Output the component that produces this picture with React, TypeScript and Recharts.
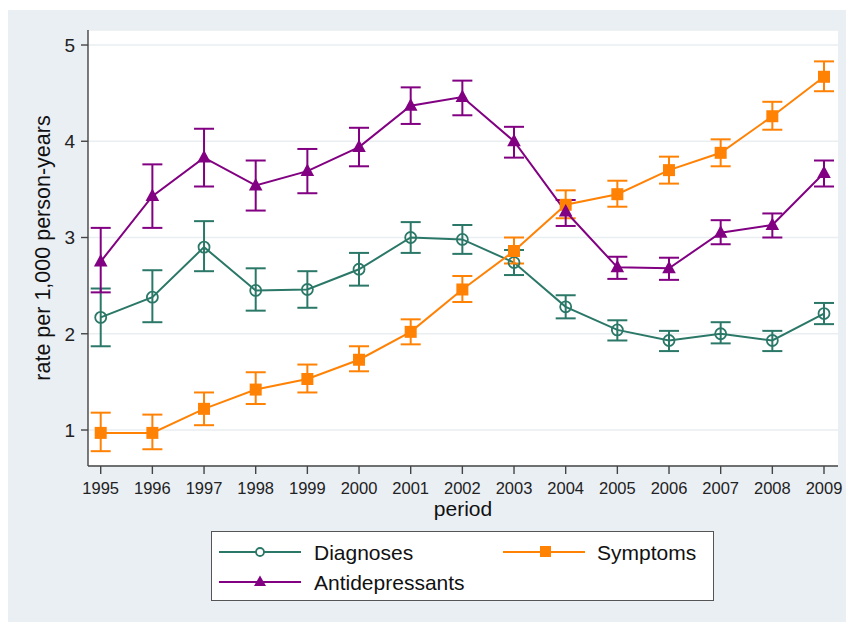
import React from 'react';
import { LineChart, Line, XAxis, YAxis, CartesianGrid, ErrorBar } from 'recharts';

const years = [1995, 1996, 1997, 1998, 1999, 2000, 2001, 2002, 2003, 2004, 2005, 2006, 2007, 2008, 2009];

const diagnoses = [2.17, 2.38, 2.90, 2.45, 2.46, 2.67, 3.00, 2.98, 2.74, 2.28, 2.04, 1.93, 2.00, 1.93, 2.21];
const diagLo = [1.87, 2.12, 2.65, 2.24, 2.27, 2.50, 2.84, 2.83, 2.61, 2.16, 1.93, 1.82, 1.90, 1.82, 2.10];
const diagHi = [2.47, 2.66, 3.17, 2.68, 2.65, 2.84, 3.16, 3.13, 2.87, 2.40, 2.14, 2.03, 2.12, 2.03, 2.32];

const symptoms = [0.97, 0.97, 1.22, 1.42, 1.53, 1.73, 2.02, 2.46, 2.86, 3.34, 3.45, 3.70, 3.88, 4.26, 4.67];
const sympLo = [0.78, 0.80, 1.05, 1.27, 1.39, 1.61, 1.89, 2.33, 2.73, 3.20, 3.32, 3.56, 3.74, 4.12, 4.52];
const sympHi = [1.18, 1.16, 1.39, 1.60, 1.68, 1.87, 2.15, 2.60, 3.00, 3.49, 3.59, 3.84, 4.02, 4.41, 4.83];

const antidep = [2.75, 3.43, 3.83, 3.54, 3.69, 3.94, 4.37, 4.46, 4.00, 3.27, 2.69, 2.68, 3.05, 3.13, 3.67];
const antiLo = [2.43, 3.10, 3.53, 3.28, 3.46, 3.74, 4.18, 4.27, 3.83, 3.12, 2.57, 2.56, 2.93, 3.00, 3.53];
const antiHi = [3.10, 3.76, 4.13, 3.80, 3.92, 4.14, 4.56, 4.63, 4.15, 3.39, 2.80, 2.79, 3.18, 3.25, 3.80];

const yTicks = [1, 2, 3, 4, 5];

const TEAL = '#2b7868';
const ORANGE = '#ff8205';
const PURPLE = '#820082';
const FONT = '"Liberation Sans", Arial, Helvetica, sans-serif';

const data = years.map((y, i) => ({
  year: y,
  diagnoses: diagnoses[i],
  diagErr: [diagnoses[i] - diagLo[i], diagHi[i] - diagnoses[i]],
  symptoms: symptoms[i],
  sympErr: [symptoms[i] - sympLo[i], sympHi[i] - symptoms[i]],
  antidep: antidep[i],
  antiErr: [antidep[i] - antiLo[i], antiHi[i] - antidep[i]],
}));

const CircleDot = (props: any) => {
  const { cx, cy, index } = props;
  if (cx == null || cy == null) return <g key={`c-${index}`} />;
  return <circle key={`c-${index}`} cx={cx} cy={cy} r={5.5} fill="none" stroke={TEAL} strokeWidth={1.8} />;
};

const SquareDot = (props: any) => {
  const { cx, cy, index } = props;
  if (cx == null || cy == null) return <g key={`s-${index}`} />;
  return <rect key={`s-${index}`} x={cx - 6} y={cy - 6} width={12} height={12} fill={ORANGE} />;
};

const TriDot = (props: any) => {
  const { cx, cy, index } = props;
  if (cx == null || cy == null) return <g key={`t-${index}`} />;
  const pts = `${cx},${cy - 7.5} ${cx - 6.8},${cy + 5} ${cx + 6.8},${cy + 5}`;
  return <polygon key={`t-${index}`} points={pts} fill={PURPLE} />;
};

const YLabel = (props: any) => {
  const vb = props.viewBox || {};
  const cx = 35;
  const cy = (vb.y ?? 0) + (vb.height ?? 0) / 2;
  return (
    <text x={cx} y={cy} transform={`rotate(-90 ${cx} ${cy})`} textAnchor="middle" dominantBaseline="central"
      fontSize={21.5} fill="#111" fontFamily={FONT}>
      rate per 1,000 person-years
    </text>
  );
};

const XLabel = (props: any) => {
  const vb = props.viewBox || {};
  const x = (vb.x ?? 0) + (vb.width ?? 0) / 2;
  const y = (vb.y ?? 0) + 50;
  return (
    <text x={x} y={y} textAnchor="middle" fontSize={21} fill="#111" fontFamily={FONT}>period</text>
  );
};

const LegendBox = () => (
  <div style={{ position: 'absolute', left: 203, top: 521, width: 503, height: 70, background: '#fff',
    border: '1.5px solid #555', boxSizing: 'border-box' }}>
    <svg width={500} height={67} style={{ position: 'absolute', left: 0, top: 0 }}>
      <g fontFamily={FONT} fontSize={21} fill="#111">
        <line x1={7} x2={89} y1={20} y2={20} stroke={TEAL} strokeWidth={2} />
        <circle cx={48} cy={20} r={4} fill="#fff" stroke={TEAL} strokeWidth={1.8} />
        <text x={102} y={20} dominantBaseline="central">Diagnoses</text>
        <line x1={291} x2={373} y1={20} y2={20} stroke={ORANGE} strokeWidth={2} />
        <rect x={328} y={14} width={11} height={11} fill={ORANGE} />
        <text x={385} y={20} dominantBaseline="central">Symptoms</text>
        <line x1={7} x2={89} y1={50} y2={50} stroke={PURPLE} strokeWidth={2} />
        <polygon points="48,43.5 42,54 54,54" fill={PURPLE} />
        <text x={102} y={50} dominantBaseline="central">Antidepressants</text>
      </g>
    </svg>
  </div>
);

export default function App() {
  return (
    <div style={{ width: 838, height: 612, background: '#eaeff4', position: 'absolute', left: 8, top: 10, overflow: 'hidden' }}>
      <LineChart width={838} height={612} data={data} margin={{ top: 20, right: 8, bottom: 116, left: 0 }}>
        <CartesianGrid vertical={false} fill="#ffffff" fillOpacity={1} stroke="#e9eef1" strokeWidth={1.5} />
        <XAxis
          dataKey="year"
          type="number"
          domain={[1994.754, 2009.271]}
          ticks={years}
          interval={0}
          allowDataOverflow
          height={40}
          tickSize={8}
          tickMargin={8}
          tick={{ fontSize: 16.5, fill: '#222', fontFamily: FONT }}
          axisLine={{ stroke: '#444', strokeWidth: 1.4 }}
          tickLine={{ stroke: '#444', strokeWidth: 1.4 }}
          label={<XLabel />}
        />
        <YAxis
          type="number"
          domain={[0.626, 5.156]}
          ticks={yTicks}
          allowDataOverflow
          width={80}
          tickSize={7}
          tickMargin={6}
          tick={{ fontSize: 19, fill: '#222', fontFamily: FONT }}
          axisLine={{ stroke: '#444', strokeWidth: 1.4 }}
          tickLine={{ stroke: '#444', strokeWidth: 1.4 }}
          label={<YLabel />}
        />
        <Line type="linear" dataKey="diagnoses" stroke={TEAL} strokeWidth={2} dot={CircleDot} activeDot={false} isAnimationActive={false}>
          <ErrorBar dataKey="diagErr" width={10} strokeWidth={2} stroke={TEAL} direction="y" />
        </Line>
        <Line type="linear" dataKey="symptoms" stroke={ORANGE} strokeWidth={2} dot={SquareDot} activeDot={false} isAnimationActive={false}>
          <ErrorBar dataKey="sympErr" width={10} strokeWidth={2} stroke={ORANGE} direction="y" />
        </Line>
        <Line type="linear" dataKey="antidep" stroke={PURPLE} strokeWidth={2} dot={TriDot} activeDot={false} isAnimationActive={false}>
          <ErrorBar dataKey="antiErr" width={10} strokeWidth={2} stroke={PURPLE} direction="y" />
        </Line>
      </LineChart>
      <LegendBox />
    </div>
  );
}
